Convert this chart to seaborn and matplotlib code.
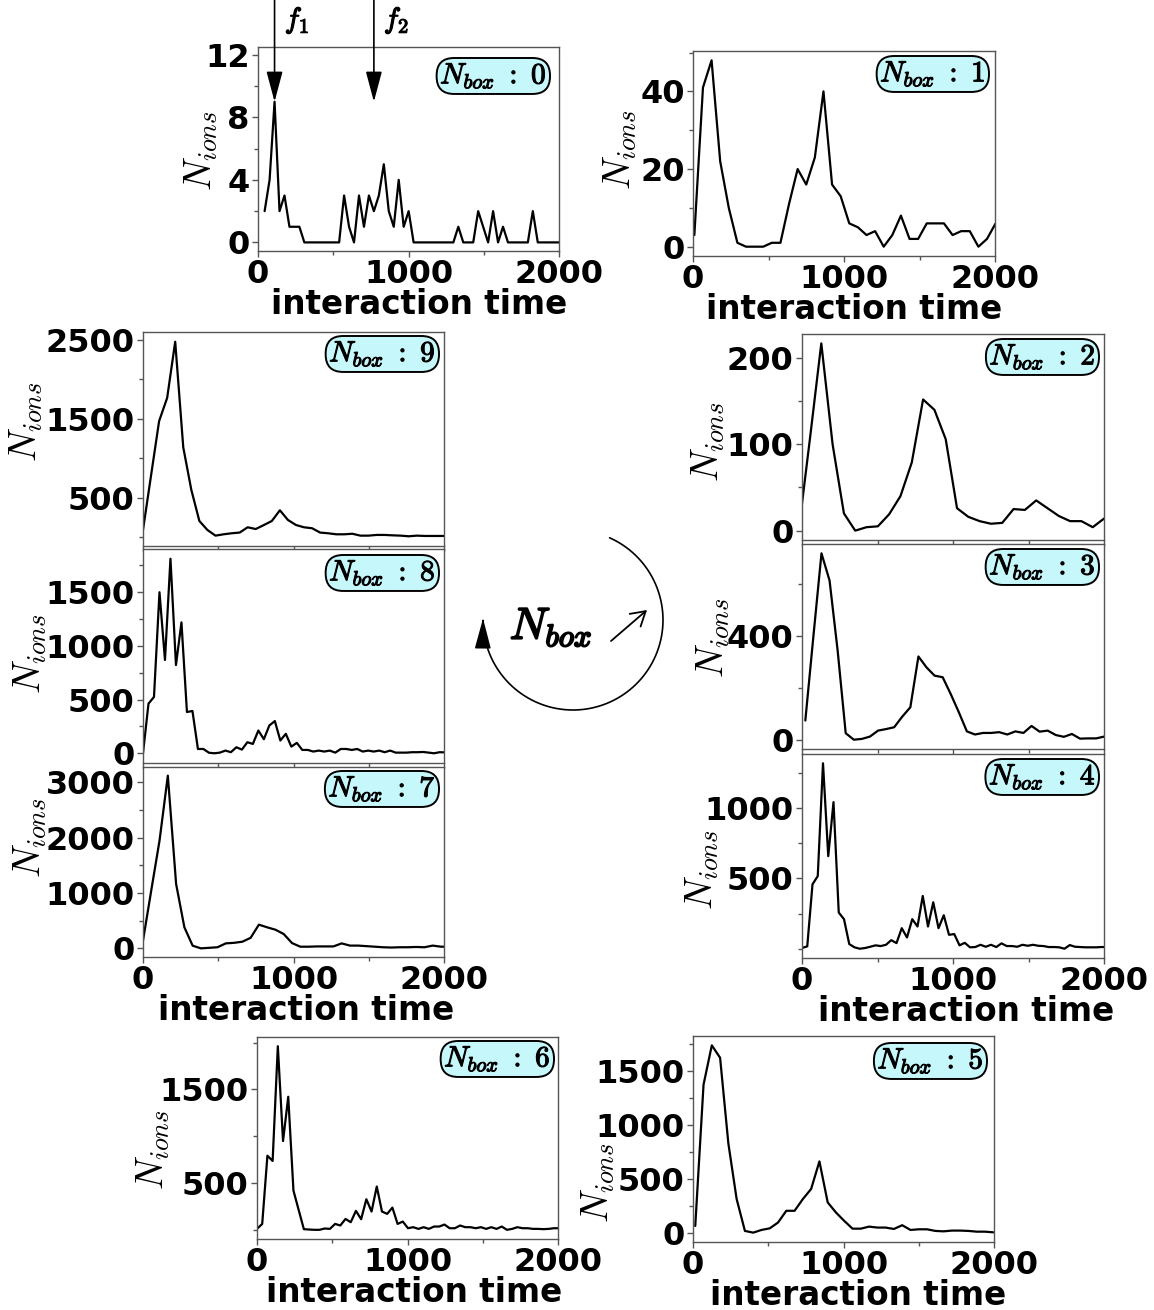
import numpy as np
import matplotlib
matplotlib.use("Agg")
import matplotlib.pyplot as plt
import matplotlib.patheffects as pe
import seaborn as sns
from matplotlib.patches import FancyArrowPatch
from matplotlib.path import Path

sns.set_style("ticks")
plt.rcParams["font.family"] = ["DejaVu Sans"]
plt.rcParams["font.weight"] = "bold"
plt.rcParams["mathtext.fontset"] = "cm"
plt.rcParams["text.color"] = "black"
plt.rcParams["axes.labelcolor"] = "black"

# ---- ion counts per time bin, one series per box index ----
counts_box0 = [2, 4, 9, 2, 3, 1, 1, 1, 0, 0, 0, 0, 0, 0, 0, 0, 3, 1, 0, 3,
               1, 3, 2, 3, 5, 2, 1, 4, 1, 2, 0, 0, 0, 0, 0, 0, 0, 0, 0, 1,
               0, 0, 0, 2, 1, 0, 2, 0, 1, 0, 0, 0, 0, 0, 2, 0, 0, 0, 0, 0, 0]
counts_box1 = [3, 41, 48, 22, 10, 1, 0, 0, 0, 1, 1, 11, 20, 16, 23, 40, 16, 13,
               6, 5, 3, 4, 0, 3, 8, 2, 2, 6, 6, 6, 3, 4, 4, 0, 2, 6]
counts_box2 = [0, 107, 217, 100, 20, 0, 4, 5, 19, 40, 79, 152, 140, 106, 26,
               16, 11, 8, 9, 25, 24, 35, 26, 17, 11, 11, 4, 14]
counts_box3 = [75, 400, 720, 615, 345, 26, 1, 4, 13, 36, 42, 49, 90, 126, 322,
               280, 248, 242, 177, 107, 33, 21, 27, 27, 30, 21, 33, 27, 54, 32,
               36, 19, 12, 23, 5, 6, 6, 13]
counts_box4 = [5, 17, 458, 516, 1318, 658, 1042, 257, 210, 33, 10, 0, 5, 14, 24,
               19, 28, 61, 40, 146, 80, 210, 158, 375, 158, 330, 146, 238, 99,
               104, 24, 42, 10, 12, 28, 14, 28, 12, 38, 19, 19, 14, 28, 21, 28,
               21, 19, 12, 12, 10, 0, 26, 14, 12, 10, 10, 10, 12, 12]
counts_box5 = [62, 1375, 1740, 1625, 828, 312, 16, 0, 25, 40, 94, 203, 203, 312,
               406, 662, 281, 187, 109, 37, 37, 56, 47, 47, 34, 69, 25, 31, 31,
               16, 12, 19, 19, 16, 9, 9, 3]
counts_box6 = [14, 67, 794, 738, 1961, 950, 1422, 422, 216, 11, 7, 4, 4, 18, 14,
               67, 50, 120, 85, 206, 117, 330, 199, 465, 199, 174, 241, 67, 92,
               21, 32, 14, 32, 14, 39, 39, 60, 21, 21, 50, 32, 32, 21, 32, 14,
               32, 14, 39, 4, 14, 32, 21, 21, 14, 14, 11, 14, 21, 21]
counts_box7 = [139, 1050, 1950, 3120, 1163, 380, 48, 0, 10, 20, 90, 100, 120,
               190, 428, 380, 337, 259, 96, 30, 30, 35, 35, 35, 90, 50, 50, 40,
               30, 20, 15, 20, 20, 25, 20, 50, 30, 30]
counts_box8 = [0, 462, 525, 1500, 869, 1812, 822, 1219, 384, 394, 40, 40, 5, 0,
               6, 25, 10, 56, 34, 103, 87, 212, 131, 259, 300, 119, 181, 62, 97,
               31, 31, 16, 25, 16, 25, 6, 40, 40, 31, 40, 16, 25, 16, 25, 10,
               25, 6, 6, 6, 10, 10, 12, 6, 0, 10, 8]
counts_box9 = [88, 780, 1470, 1765, 2478, 1137, 598, 202, 88, 16, 33, 46, 55,
               122, 100, 150, 202, 338, 215, 151, 122, 110, 55, 46, 33, 33, 40,
               16, 16, 25, 25, 20, 16, 8, 16, 12, 12, 12, 12]

# first bin centre and bin width of each run's time histogram
bin_start = [44, 9, -22, 22, 0, 15, 0, 0, 0, 0]
bin_width = [33.0, 57.0, 74.9, 53.5, 34.77, 55.0, 34.6, 55.0, 36.5, 53.5]

all_counts = [counts_box0, counts_box1, counts_box2, counts_box3, counts_box4,
              counts_box5, counts_box6, counts_box7, counts_box8, counts_box9]

# marker times for the two ion bunches
f1_time, f2_time = 110, 770

W, H = 1154, 1310
fig = plt.figure(figsize=(W / 100, H / 100), dpi=100)

# thin outline that thickens the Computer Modern math glyphs
bold_fx = [pe.withStroke(linewidth=0.8, foreground="black")]


def add_axes_px(l, t, r, b):
    return fig.add_axes([l / W, 1 - b / H, (r - l) / W, (b - t) / H])


# panel frame (px), major y ticks, minor y ticks, x tick labels shown,
# y-label centre (px), x-label shift (px), label box inset right/top (px)
panels = {
    0: ((258, 47, 559, 251), [0, 4, 8, 12], [2, 6, 10], True,
        (201, 151), 11, (8, 10)),
    1: ((693, 51, 995, 256), [0, 20, 40], [10, 30, 50], True,
        (620, 150), 10, (5, 4)),
    9: ((143, 332, 444, 546), [500, 1500, 2500], [0, 1000, 2000], False,
        (26, 422), 0, (4, 3)),
    8: ((143, 549, 444, 763), [0, 500, 1000, 1500], [250, 750, 1250, 1750],
        False, (30, 654), 0, (4, 5)),
    7: ((143, 767, 444, 957), [0, 1000, 2000, 3000], [500, 1500, 2500], True,
        (30, 838), 13, (4, 3)),
    2: ((802, 334, 1104, 540), [0, 100, 200], [50, 150], False,
        (708, 442), 0, (4, 4)),
    3: ((802, 544, 1104, 749), [0, 400], [200, 600], False,
        (713, 638), 0, (4, 4)),
    4: ((802, 754, 1104, 958), [500, 1000], [0, 250, 750, 1250], True,
        (702, 870), 13, (4, 4)),
    6: ((257, 1037, 558, 1239), [500, 1500], [0, 1000, 2000], True,
        (153, 1150), 7, (3, 3)),
    5: ((693, 1036, 994, 1242), [0, 500, 1000, 1500], [250, 750, 1250, 1750],
        True, (598, 1183), 15, (6, 6)),
}

spine_col = "#555555"
box_fs = 21
box_pad = 0.12
pad_px = box_pad * box_fs * 100 / 72 + 1
axes = {}
for k, (rect, major, minor, xlab, ylab_c, xshift, inset) in panels.items():
    l, t, r, b = rect
    ax = add_axes_px(*rect)
    counts = all_counts[k]
    times = bin_start[k] + bin_width[k] * np.arange(len(counts))
    sns.lineplot(x=times, y=counts, ax=ax, color="black", lw=1.6)
    ax.set_xlim(0, 2000)
    ax.set_xticks([0, 1000, 2000])
    ax.set_xticks([500, 1500], minor=True)
    ax.set_yticks(major)
    ax.set_yticks(minor, minor=True)
    for s in ax.spines.values():
        s.set_visible(True)
        s.set_color(spine_col)
        s.set_linewidth(1.0)
    ax.tick_params(which="major", direction="out", length=4, width=1,
                   color=spine_col, labelcolor="black", labelsize=23, pad=2)
    ax.tick_params(which="minor", direction="out", length=3, width=1,
                   color=spine_col)
    ax.set_ylabel(r"$N_{ions}$", fontsize=27)
    ax.yaxis.set_label_coords((ylab_c[0] - l) / (r - l),
                              (b - ylab_c[1]) / (b - t))
    ax.yaxis.label.set_verticalalignment("center")
    if xlab:
        ax.set_xlabel("interaction time", fontsize=23.5, fontweight="bold",
                      labelpad=-2)
        ax.xaxis.label.set_x(0.5 + xshift / (r - l))
    else:
        ax.tick_params(axis="x", labelbottom=False)
    ax.annotate(r"$N_{box}\ \mathbf{:\ %d}$" % k, xy=(1, 1),
                xycoords="axes fraction",
                xytext=(-(inset[0] + pad_px), -(inset[1] + pad_px)),
                textcoords="offset pixels", ha="right", va="top",
                fontsize=box_fs, path_effects=bold_fx,
                bbox=dict(boxstyle="round,pad=%.2f,rounding_size=0.6" % box_pad,
                          fc="#c6f7fb", ec="black", lw=1.4))
    axes[k] = ax

axes[0].set_ylim(-0.55, 12.5)

# arrows pointing at the two bunches in the first box
arrow_kw = dict(arrowstyle="-|>,head_length=0.75,head_width=0.2",
                color="black", lw=1.2, mutation_scale=25,
                shrinkA=0, shrinkB=0)
for ft, lab in [(f1_time, r"$f_1$"), (f2_time, r"$f_2$")]:
    axes[0].annotate("", xy=(ft, 9.0), xytext=(ft, 15.8),
                     arrowprops=arrow_kw, annotation_clip=False)
    axes[0].text(ft + 150, 14.2, lab, fontsize=21, ha="center",
                 va="center", clip_on=False, path_effects=bold_fx)

# overlay for the circular "increasing N_box" arrow
ov = fig.add_axes([0, 0, 1, 1])
ov.set_xlim(0, W)
ov.set_ylim(H, 0)
ov.axis("off")
ov.patch.set_alpha(0)
cx, cy, r = 573, 620, 90
ang = np.radians(np.linspace(66, -181, 200))
verts = np.column_stack([cx + r * np.cos(ang), cy - r * np.sin(ang)])
arc = FancyArrowPatch(path=Path(verts),
                      arrowstyle="-|>,head_length=0.75,head_width=0.2",
                      mutation_scale=25, color="black", lw=1.2)
ov.add_patch(arc)
ov.annotate("", xy=(647, 610), xytext=(611, 641),
            arrowprops=dict(arrowstyle="->,head_length=0.5,head_width=0.3",
                            color="black", lw=1.3, mutation_scale=20,
                            shrinkA=0, shrinkB=0))
ov.text(551, 627, r"$N_{box}$", fontsize=32, ha="center", va="center",
        path_effects=[pe.withStroke(linewidth=1.4, foreground="black")])

fig.savefig("out.png", dpi=100)
